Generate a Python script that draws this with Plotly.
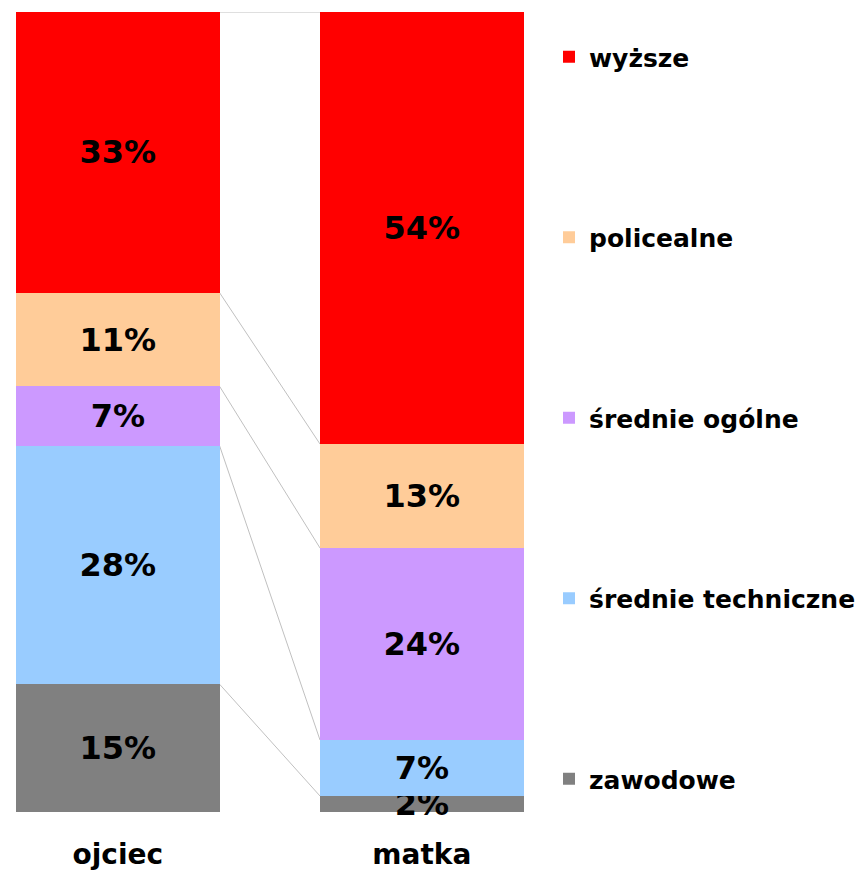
import plotly.graph_objects as go

# Education level of parents (percent of respondents)
groups = ["ojciec", "matka"]
levels = ["zawodowe", "średnie techniczne", "średnie ogólne", "policealne", "wyższe"]
ojciec = [15, 28, 7, 11, 33]
matka = [2, 7, 24, 13, 54]
colors = ["#808080", "#99CCFF", "#CC99FF", "#FFCC99", "#FF0000"]

FONT = "DejaVu Sans"
BAR_WIDTH = 0.67
W, H = 861, 872
ML, MT, MB = 16, 12, 60
PLOT_W, PLOT_H = W - ML, H - MT - MB

fig = go.Figure()
for i, name in enumerate(levels):
    vals = [ojciec[i], matka[i]]
    fig.add_trace(go.Bar(
        x=groups, y=vals, name=name,
        marker=dict(color=colors[i], line=dict(width=0)),
        text=[f"{v}%" for v in vals],
        textposition="inside", insidetextanchor="middle",
        textangle=0, constraintext="none", cliponaxis=False,
        textfont=dict(family=FONT, size=32, color="black", weight="bold"),
        legendgroup=name, legendrank=len(levels) - i, hoverinfo="skip",
    ))


def cumulative_share(values):
    total = float(sum(values))
    out, acc = [], 0.0
    for v in values:
        acc += v
        out.append(100.0 * acc / total)
    return out


# series lines joining segment tops of the two stacks
top_o = cumulative_share(ojciec)
top_m = cumulative_share(matka)
half = BAR_WIDTH / 2
shapes = []
for yo, ym in zip(top_o, top_m):
    shapes.append(dict(type="line", xref="x", yref="y",
                       x0=0 + half, y0=yo, x1=1 - half, y1=ym,
                       line=dict(color="#C0C0C0", width=1), layer="below"))

# one category step is 304 px wide
x_end = -half + PLOT_W / 304.0

fig.update_layout(
    width=W, height=H,
    margin=dict(l=ML, r=0, t=MT, b=MB),
    barmode="stack", barnorm="percent", bargap=1 - BAR_WIDTH,
    plot_bgcolor="white", paper_bgcolor="white",
    shapes=shapes,
    showlegend=True,
    legend=dict(
        traceorder="grouped", tracegroupgap=145, maxheight=1,
        font=dict(family=FONT, size=25, color="black", weight="bold"),
        x=(549 - ML) / PLOT_W, xanchor="left",
        y=1 - (34 - MT) / PLOT_H, yanchor="top",
        bgcolor="rgba(0,0,0,0)",
    ),
    xaxis=dict(
        type="category", range=[-half, x_end], automargin=False,
        showgrid=False, zeroline=False, showline=False, ticks="",
        tickfont=dict(family=FONT, size=28, color="black", weight="bold"),
        ticklabelstandoff=23,
    ),
    yaxis=dict(range=[0, 100], visible=False, showgrid=False, zeroline=False,
               automargin=False),
)

fig.write_html("out.html")
